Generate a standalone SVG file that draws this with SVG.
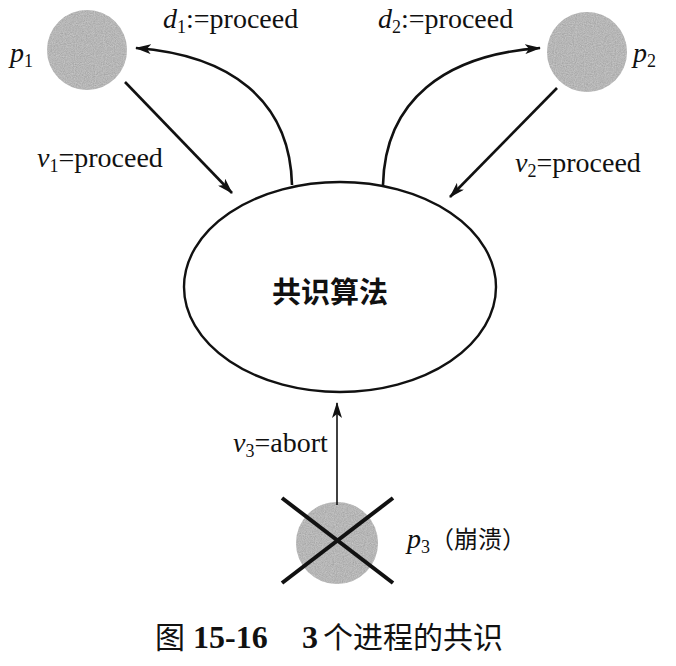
<svg xmlns="http://www.w3.org/2000/svg" width="676" height="666" viewBox="0 0 676 666">
<defs>
<style>
.t{font-family:"Liberation Serif","Noto Sans CJK SC",serif;font-size:28px;fill:#111}
.i{font-style:italic}
.s{font-size:18px}
.cj{font-family:"Noto Sans CJK SC",sans-serif;fill:#111}
.cap{font-family:"Liberation Serif",serif;font-size:32px;font-weight:bold;fill:#111}
.proc{fill:#b4b4b4;filter:url(#grain)}
.edge{fill:none;stroke:#111;stroke-width:2.6}
</style>
<filter id="grain" x="-10%" y="-10%" width="120%" height="120%">
<feTurbulence type="fractalNoise" baseFrequency="0.9" numOctaves="2" seed="3" result="n"/>
<feColorMatrix in="n" type="saturate" values="0" result="g"/>
<feComponentTransfer in="g" result="g2"><feFuncA type="linear" slope="0" intercept="0.35"/></feComponentTransfer>
<feComposite in="g2" in2="SourceGraphic" operator="in" result="m"/>
<feMerge><feMergeNode in="SourceGraphic"/><feMergeNode in="m"/></feMerge>
</filter>
<marker id="ah" viewBox="0 0 16 10" refX="15" refY="5" markerWidth="16" markerHeight="10" markerUnits="userSpaceOnUse" orient="auto">
<path d="M0,0 L16,5 L0,10 L4,5 z" fill="#111"/>
</marker>
</defs>
<rect width="676" height="666" fill="#fff"/>
<g id="p1">
<circle class="proc" cx="87" cy="50" r="40"/>
<text class="t" x="10" y="62"><tspan class="i">p</tspan><tspan class="s" dy="5">1</tspan></text>
</g>
<g id="p2">
<circle class="proc" cx="587" cy="52" r="40"/>
<text class="t" x="633" y="62"><tspan class="i">p</tspan><tspan class="s" dy="5">2</tspan></text>
</g>
<g id="consensus">
<ellipse cx="340" cy="287" rx="156" ry="105" fill="#fff" stroke="#111" stroke-width="2.4"/>
<text class="cj" x="330" y="303" font-size="29" font-weight="bold" text-anchor="middle">共识算法</text>
</g>
<g id="p3">
<circle class="proc" cx="337" cy="543" r="41"/>
<line x1="282" y1="498" x2="393" y2="583" stroke="#111" stroke-width="4"/>
<line x1="393" y1="498" x2="282" y2="583" stroke="#111" stroke-width="4"/>
<text class="t" x="407" y="548"><tspan class="i">p</tspan><tspan class="s" dy="5">3</tspan><tspan class="cj" dy="-5" style="font-size:24px">（崩溃）</tspan></text>
</g>
<g id="connectors">
<path class="edge" d="M292,185 C290,100 230,55 136,48" marker-end="url(#ah)"/>
<path class="edge" d="M383,185 C385,100 445,55 540,48" marker-end="url(#ah)"/>
<line class="edge" x1="125" y1="82" x2="232" y2="193" marker-end="url(#ah)"/>
<line class="edge" x1="557" y1="88" x2="450" y2="197" marker-end="url(#ah)"/>
<line class="edge" x1="337" y1="505" x2="337" y2="403" style="stroke-width:1.6" marker-end="url(#ah)"/>
</g>
<g id="labels">
<text class="t" x="163" y="28"><tspan class="i">d</tspan><tspan class="s" dy="5">1</tspan><tspan dy="-5">:=proceed</tspan></text>
<text class="t" x="378" y="28"><tspan class="i">d</tspan><tspan class="s" dy="5">2</tspan><tspan dy="-5">:=proceed</tspan></text>
<text class="t" x="37" y="167"><tspan class="i">v</tspan><tspan class="s" dy="5">1</tspan><tspan dy="-5">=proceed</tspan></text>
<text class="t" x="515" y="172"><tspan class="i">v</tspan><tspan class="s" dy="5">2</tspan><tspan dy="-5">=proceed</tspan></text>
<text class="t" x="233" y="452"><tspan class="i">v</tspan><tspan class="s" dy="5">3</tspan><tspan dy="-5">=abort</tspan></text>
</g>
<g id="caption">
<text class="cj" x="155" y="648" font-size="30">图</text>
<text class="cap" x="193" y="648">15-16</text>
<text class="cap" x="302" y="648">3</text>
<text class="cj" x="323" y="648" font-size="30">个进程的共识</text>
</g>
</svg>
